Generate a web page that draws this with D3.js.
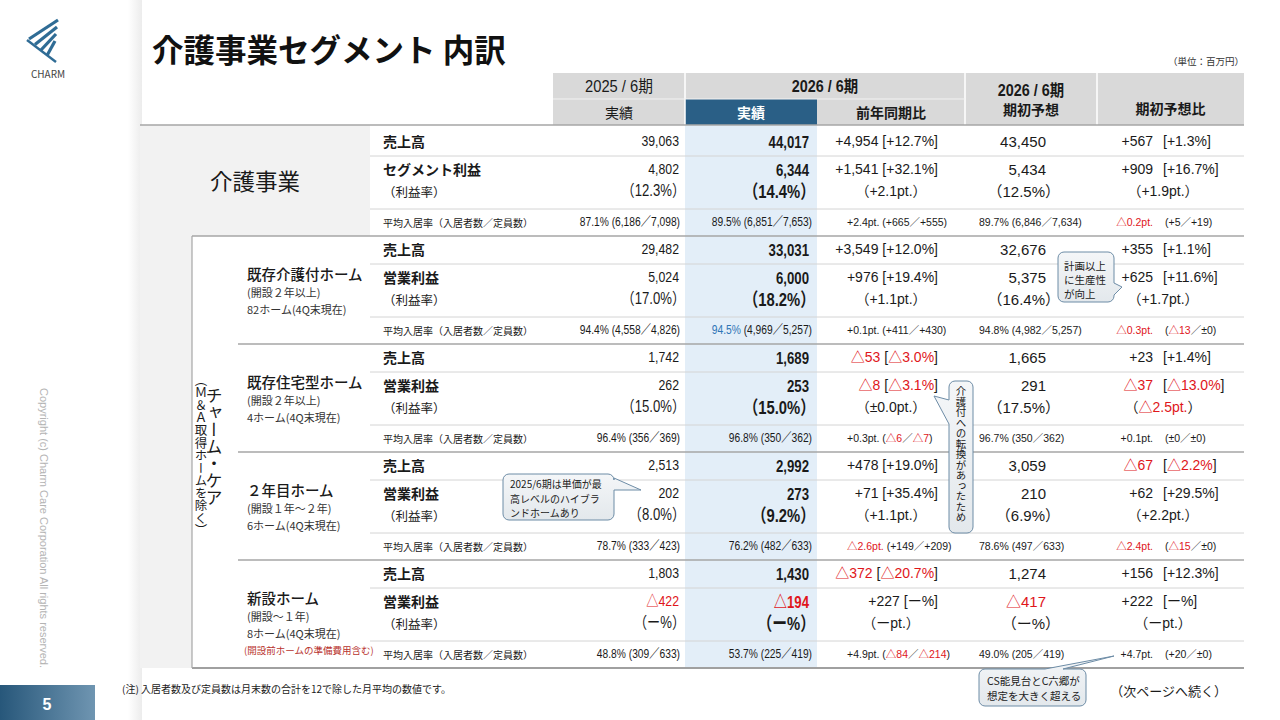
<!DOCTYPE html>
<html lang="ja">
<head>
<meta charset="utf-8">
<script src="https://cdn.jsdelivr.net/npm/d3@7"></script>
<style>
body { margin: 0; background: #fff; }
svg { display: block; }
text { font-family: "Liberation Sans", "Noto Sans CJK JP", sans-serif; white-space: pre; }
.jp { font-family: "Noto Sans CJK JP", sans-serif; }
</style>
</head>
<body>
<svg id="chart" width="1280" height="720"></svg>
<script>
// ---- data (百万円) ----
const segments = ["介護事業", "既存介護付ホーム", "既存住宅型ホーム", "２年目ホーム", "新設ホーム"];
const segmentNotes = [[], ["(開設２年以上)", "82ホーム(4Q末現在)"], ["(開設２年以上)", "4ホーム(4Q末現在)"],
                      ["(開設１年～２年)", "6ホーム(4Q末現在)"], ["(開設～１年)", "8ホーム(4Q末現在)"]];
const headGroup = ["2025 / 6期", "2026 / 6期", "2026 / 6期"];
const headSub = ["実績", "実績", "前年同期比", "期初予想", "期初予想比"];

const sales2025 = [39063, 29482, 1742, 2513, 1803];
const sales2026 = [44017, 33031, 1689, 2992, 1430];
const salesYoY = [4954, 3549, -53, 478, -372];
const salesYoYPct = [12.7, 12.0, -3.0, 19.0, -20.7];
const salesPlan = [43450, 32676, 1665, 3059, 1274];
const salesVsPlan = [567, 355, 23, -67, 156];
const salesVsPlanPct = [1.3, 1.1, 1.4, -2.2, 12.3];

const profit2025 = [4802, 5024, 262, 202, -422];
const profit2026 = [6344, 6000, 253, 273, -194];
const profitYoY = [1541, 976, -8, 71, 227];
const profitYoYPct = [32.1, 19.4, -3.1, 35.4, null];
const profitPlan = [5434, 5375, 291, 210, -417];
const profitVsPlan = [909, 625, -37, 62, 222];
const profitVsPlanPct = [16.7, 11.6, -13.0, 29.5, null];

const margin2025 = [12.3, 17.0, 15.0, 8.0, null];
const margin2026 = [14.4, 18.2, 15.0, 9.2, null];
const marginYoY = [2.1, 1.1, 0.0, 1.1, null];
const marginPlan = [12.5, 16.4, 17.5, 6.9, null];
const marginVsPlan = [1.9, 1.7, -2.5, 2.2, null];

const occ2025 = [87.1, 94.4, 96.4, 78.7, 48.8];
const residents2025 = [6186, 4558, 356, 333, 309];
const capacity2025 = [7098, 4826, 369, 423, 633];
const occ2026 = [89.5, 94.5, 96.8, 76.2, 53.7];
const residents2026 = [6851, 4969, 350, 482, 225];
const capacity2026 = [7653, 5257, 362, 633, 419];
const occ2026Blue = [false, true, false, false, false];
const occYoY = [2.4, 0.1, 0.3, -2.6, 4.9];
const residentsYoY = [665, 411, -6, 149, -84];
const capacityYoY = [555, 430, -7, 209, -214];
const occPlan = [89.7, 94.8, 96.7, 78.6, 49.0];
const residentsPlan = [6846, 4982, 350, 497, 205];
const capacityPlan = [7634, 5257, 362, 633, 419];
const occVsPlan = [-0.2, -0.3, 0.1, -2.4, 4.7];
const residentsVsPlan = [5, -13, 0, -15, 20];
const capacityVsPlan = [19, 0, 0, 0, 0];

const calloutTexts = [["計画以上", "に生産性", "が向上"], ["介護付への転換があったため"],
                      ["2025/6期は単価が最", "高レベルのハイブラ", "ンドホームあり"], ["CS能見台とC六郷が", "想定を大きく超える"]];

// ---- helpers ----
const RED = "#e0161b", INK = "#1a1a1a", BLUE = "#2a5f86";
const NARROW = 0.82;   // Arial Narrow look
const comma = d3.format(",");
const plain = v => v < 0 ? "△" + comma(-v) : comma(v);
function signed(v, dec) {
  if (v == null) return "ー";
  const s = dec != null ? Math.abs(v).toFixed(dec) : comma(Math.abs(v));
  return v > 0 ? "+" + s : v < 0 ? "△" + s : "±" + s;
}
const pctCell = v => v == null ? "ー%" : signed(v, 1) + "%";
const ptCell = v => v == null ? "ーpt." : signed(v, 1) + "pt.";
const mCell = v => "（" + (v == null ? "ー" : v.toFixed(1)) + "%）";

const svg = d3.select("#chart");

function put(g, x, yy, str, o = {}) {
  const t = g.append("text")
    .attr("text-anchor", o.anchor || "start").attr("dominant-baseline", "central")
    .attr("font-size", o.size || 14).attr("font-weight", o.weight || (o.bold ? "bold" : null))
    .attr("class", o.cls || null).attr("fill", o.fill || INK);
  if (o.sx) t.attr("transform", `translate(${x},${yy}) scale(${o.sx},1)`).attr("x", 0).attr("y", 0);
  else t.attr("x", x).attr("y", yy);
  let rest = str;
  if (o.blue) {
    const m = rest.match(/^[0-9.]+%/);
    t.append("tspan").attr("fill", "#2e75b6").text(m[0]);
    rest = rest.slice(m[0].length);
  }
  const re = /△[0-9.,]+(?:pt\.|%)?/g;
  let last = 0, m;
  while ((m = re.exec(rest))) {
    if (m.index > last) t.append("tspan").text(rest.slice(last, m.index));
    t.append("tspan").attr("fill", RED).text(m[0]);
    last = re.lastIndex;
  }
  if (last < rest.length) t.append("tspan").text(rest.slice(last));
  return t;
}

// ---- scales ----
const colKeys = ["prev", "cur", "yoy", "plan", "vsPlan"];
const colEdge = d3.scaleOrdinal().domain([...colKeys, "end"]).range([553, 685, 817, 965, 1097, 1244]);
const y = d3.scaleLinear().domain([0, segments.length]).range([128, 668]);
const off = { sales: 13, line1: 28, profit: 41, margin: 63, line2: 81, occ: 94 };

// ---- background ----
const defs = svg.append("defs");
const pg = defs.append("linearGradient").attr("id", "pgnum");
pg.append("stop").attr("offset", 0).attr("stop-color", "#27577a");
pg.append("stop").attr("offset", 1).attr("stop-color", "#6f95b1");
const sh = defs.append("linearGradient").attr("id", "shade");
sh.append("stop").attr("offset", 0).attr("stop-color", "#fff");
sh.append("stop").attr("offset", 1).attr("stop-color", "#ececec");
const cg = defs.append("linearGradient").attr("id", "bub").attr("x2", 0).attr("y2", 1);
cg.append("stop").attr("offset", 0).attr("stop-color", "#f4f6f8");
cg.append("stop").attr("offset", 1).attr("stop-color", "#e3e8ec");

svg.append("rect").attr("x", 128).attr("y", 0).attr("width", 14).attr("height", 720).attr("fill", "url(#shade)");
svg.append("rect").attr("x", 142).attr("y", 0).attr("width", 1138).attr("height", 720).attr("fill", "#fff");

// grey label areas
svg.append("rect").attr("x", 140).attr("y", 125).attr("width", 230).attr("height", y(1) - 125).attr("fill", "#f2f2f2");
svg.append("rect").attr("x", 140).attr("y", y(1)).attr("width", 52).attr("height", y(5) - y(1)).attr("fill", "#f2f2f2");
// highlighted column
svg.append("rect").attr("x", colEdge("cur")).attr("y", 125).attr("width", colEdge("yoy") - colEdge("cur"))
  .attr("height", y(5) - 125).attr("fill", "#e3eef8");

// header
const hd = svg.append("g");
hd.append("rect").attr("x", colEdge("prev")).attr("y", 73).attr("width", colEdge("end") - colEdge("prev")).attr("height", 52).attr("fill", "#d9d9d9");
hd.append("rect").attr("x", colEdge("cur")).attr("y", 99).attr("width", colEdge("yoy") - colEdge("cur")).attr("height", 26).attr("fill", BLUE);
["cur", "plan", "vsPlan"].forEach(k => hd.append("line").attr("x1", colEdge(k)).attr("x2", colEdge(k))
  .attr("y1", 73).attr("y2", 125).attr("stroke", "#fff").attr("stroke-width", 1.5));
hd.append("line").attr("x1", colEdge("prev")).attr("x2", colEdge("plan")).attr("y1", 99).attr("y2", 99).attr("stroke", "#f2f2f2").attr("stroke-width", 1);
const mid = (a, b) => (colEdge(a) + colEdge(b)) / 2;
put(hd, mid("prev", "cur"), 86, headGroup[0], { anchor: "middle", sx: 0.92, size: 16 });
put(hd, mid("cur", "plan"), 86, headGroup[1], { anchor: "middle", sx: 0.9, size: 16, bold: true });
put(hd, mid("plan", "vsPlan"), 90, headGroup[2], { anchor: "middle", sx: 0.9, size: 16, bold: true });
put(hd, mid("prev", "cur"), 112, headSub[0], { anchor: "middle", cls: "jp", size: 14 });
put(hd, mid("cur", "yoy"), 112, headSub[1], { anchor: "middle", cls: "jp", size: 14, bold: true, fill: "#fff" });
put(hd, mid("yoy", "plan"), 112, headSub[2], { anchor: "middle", cls: "jp", size: 14, bold: true });
put(hd, mid("plan", "vsPlan"), 109, headSub[3], { anchor: "middle", cls: "jp", size: 14, bold: true });
put(hd, mid("vsPlan", "end"), 108, headSub[4], { anchor: "middle", cls: "jp", size: 14, bold: true });

// ---- grid lines ----
const grid = svg.append("g");
grid.append("line").attr("x1", 140).attr("x2", colEdge("end")).attr("y1", 125).attr("y2", 125).attr("stroke", "#a6a6a6").attr("stroke-width", 1.5);
segments.forEach((s, i) => {
  const t = y(i);
  [off.line1, off.line2].forEach(d => grid.append("line").attr("x1", 370).attr("x2", colEdge("end"))
    .attr("y1", t + d).attr("y2", t + d).attr("stroke", "#d4d4d4").attr("stroke-width", 1));
  if (i > 0) grid.append("line").attr("x1", i === 1 ? 192 : 238).attr("x2", colEdge("end"))
    .attr("y1", t).attr("y2", t).attr("stroke", "#a6a6a6").attr("stroke-width", 1.3);
});
grid.append("line").attr("x1", 192).attr("x2", colEdge("end")).attr("y1", y(5)).attr("y2", y(5)).attr("stroke", "#a0a0a0").attr("stroke-width", 2);
grid.append("line").attr("x1", 192).attr("x2", 192).attr("y1", y(1)).attr("y2", y(5)).attr("stroke", "#a6a6a6").attr("stroke-width", 1.2);
grid.append("rect").attr("x", 193).attr("y", y(1) + 1).attr("width", 45).attr("height", y(5) - y(1) - 2).attr("fill", "#fff");

// ---- rows ----
segments.forEach((name, i) => {
  const t = y(i);
  const g = svg.append("g");
  if (i === 0) {
    put(g, 210, t + 52, name, { cls: "jp", size: 22.5 });
  } else {
    put(g, 247, t + 37, name, { cls: "jp", size: 14.5, weight: 500 });
    segmentNotes[i].forEach((n, k) => put(g, 247, t + 56 + k * 16.5, n, { cls: "jp", size: 11, fill: "#333" }));
    if (i === 4) put(g, 244, t + 90, "(開設前ホームの準備費用含む)", { cls: "jp", size: 9.5, fill: "#b8332e" });
  }
  put(g, 383, t + off.sales, "売上高", { cls: "jp", size: 14, bold: true });
  put(g, 383, t + off.profit, i === 0 ? "セグメント利益" : "営業利益", { cls: "jp", size: 14, bold: true });
  put(g, 383, t + off.margin, "（利益率）", { cls: "jp", size: 12.5 });
  put(g, 383, t + off.occ, "平均入居率（入居者数／定員数）", { cls: "jp", size: 10 });

  // sales
  put(g, 679, t + off.sales, plain(sales2025[i]), { anchor: "end", sx: NARROW, size: 15 });
  put(g, 809, t + off.sales, plain(sales2026[i]), { anchor: "end", sx: 0.8, size: 16.5, bold: true });
  put(g, 938, t + off.sales, `${signed(salesYoY[i])} [${pctCell(salesYoYPct[i])}]`, { anchor: "end", size: 14 });
  put(g, 1046, t + off.sales, plain(salesPlan[i]), { anchor: "end", size: 15 });
  put(g, 1153, t + off.sales, signed(salesVsPlan[i]), { anchor: "end", size: 14 });
  put(g, 1163, t + off.sales, `[${pctCell(salesVsPlanPct[i])}]`, { size: 14 });

  // profit
  put(g, 679, t + off.profit, plain(profit2025[i]), { anchor: "end", sx: NARROW, size: 15 });
  put(g, 809, t + off.profit, plain(profit2026[i]), { anchor: "end", sx: 0.8, size: 16.5, bold: true });
  put(g, 938, t + off.profit, `${signed(profitYoY[i])} [${pctCell(profitYoYPct[i])}]`, { anchor: "end", size: 14 });
  put(g, 1046, t + off.profit, plain(profitPlan[i]), { anchor: "end", size: 15 });
  put(g, 1153, t + off.profit, signed(profitVsPlan[i]), { anchor: "end", size: 14 });
  put(g, 1163, t + off.profit, `[${pctCell(profitVsPlanPct[i])}]`, { size: 14 });

  // margin
  put(g, 685, t + off.margin, mCell(margin2025[i]), { anchor: "end", sx: NARROW, size: 16 });
  put(g, 815, t + off.margin, mCell(margin2026[i]), { anchor: "end", sx: 0.8, size: 18.5, bold: true });
  put(g, 891, t + off.margin, `（${ptCell(marginYoY[i])}）`, { anchor: "middle", size: 14 });
  put(g, 1060, t + off.margin, mCell(marginPlan[i]), { anchor: "end", size: 15 });
  put(g, 1163, t + off.margin, `（${ptCell(marginVsPlan[i])}）`, { anchor: "middle", size: 14 });

  // occupancy
  put(g, 680, t + off.occ, `${occ2025[i].toFixed(1)}% (${comma(residents2025[i])}／${comma(capacity2025[i])})`, { anchor: "end", sx: NARROW, size: 12.5 });
  put(g, 812, t + off.occ, `${occ2026[i].toFixed(1)}% (${comma(residents2026[i])}／${comma(capacity2026[i])})`, { anchor: "end", sx: NARROW, size: 12.5, blue: occ2026Blue[i] });
  put(g, 847, t + off.occ, `${signed(occYoY[i], 1)}pt. (${signed(residentsYoY[i])}／${signed(capacityYoY[i])})`, { size: 10.5 });
  put(g, 979, t + off.occ, `${occPlan[i].toFixed(1)}% (${comma(residentsPlan[i])}／${comma(capacityPlan[i])})`, { size: 10.5 });
  put(g, 1153, t + off.occ, `${signed(occVsPlan[i], 1)}pt.`, { anchor: "end", size: 10.5 });
  put(g, 1165, t + off.occ, `(${signed(residentsVsPlan[i])}／${signed(capacityVsPlan[i])})`, { size: 10.5 });
});

// vertical group label
svg.append("text").attr("x", 214).attr("y", 387).attr("class", "jp").attr("font-size", 17).attr("fill", INK)
  .style("writing-mode", "vertical-rl").text("チャーム・ケア");
svg.append("text").attr("x", 201).attr("y", 374).attr("class", "jp").attr("font-size", 12.5).attr("fill", INK)
  .style("writing-mode", "vertical-rl").text("（Ｍ＆Ａ取得ホームを除く）");

// ---- callouts ----
function bubblePath(b, side, a1, a2, tip) {
  const { x, y: yy, w, h } = b, r = 6, p = d3.path();
  p.moveTo(x + r, yy);
  if (side === "top") { p.lineTo(a1, yy); p.lineTo(tip[0], tip[1]); p.lineTo(a2, yy); }
  p.lineTo(x + w - r, yy); p.arcTo(x + w, yy, x + w, yy + r, r);
  if (side === "right") { p.lineTo(x + w, a1); p.lineTo(tip[0], tip[1]); p.lineTo(x + w, a2); }
  p.lineTo(x + w, yy + h - r); p.arcTo(x + w, yy + h, x + w - r, yy + h, r);
  p.lineTo(x + r, yy + h); p.arcTo(x, yy + h, x, yy + h - r, r);
  if (side === "left") { p.lineTo(x, a2); p.lineTo(tip[0], tip[1]); p.lineTo(x, a1); }
  p.lineTo(x, yy + r); p.arcTo(x, yy, x + r, yy, r);
  p.closePath();
  return p.toString();
}
const bubbles = [
  { box: { x: 1058, y: 252, w: 56, h: 50 }, side: "right", a1: 283, a2: 295, tip: [1122, 287], tx: 1064, ty: 265, dy: 14, size: 10.5 },
  { box: { x: 949, y: 381, w: 24, h: 152 }, side: "left", a1: 400, a2: 424, tip: [934, 396], vertical: true, tx: 961, ty: 386, size: 10.5 },
  { box: { x: 503, y: 474, w: 111, h: 46 }, side: "right", a1: 478, a2: 490, tip: [641, 490], tx: 510, ty: 483, dy: 14.5, size: 10 },
  { box: { x: 979, y: 669, w: 107, h: 37 }, side: "top", a1: 1045, a2: 1063, tip: [1114, 656], tx: 987, ty: 680, dy: 15, size: 10.5 }
];
bubbles.forEach((b, i) => {
  const g = svg.append("g");
  g.append("path").attr("d", bubblePath(b.box, b.side, b.a1, b.a2, b.tip))
    .attr("fill", "url(#bub)").attr("stroke", "#6d8ca6").attr("stroke-width", 1);
  if (b.vertical) {
    g.append("text").attr("x", b.tx).attr("y", b.ty).attr("class", "jp").attr("font-size", b.size).attr("fill", INK)
      .style("writing-mode", "vertical-rl").text(calloutTexts[i][0]);
  } else {
    calloutTexts[i].forEach((s, k) => put(g, b.tx, b.ty + k * b.dy, s, { cls: "jp", size: b.size, fill: "#222" }));
  }
});

// ---- page furniture ----
put(svg, 152, 48, "介護事業セグメント 内訳", { cls: "jp", size: 31.5, bold: true, fill: "#111" });
put(svg, 1244, 61, "（単位：百万円）", { anchor: "end", cls: "jp", size: 9.5, fill: "#333" });
put(svg, 122, 688, "(注) 入居者数及び定員数は月末数の合計を12で除した月平均の数値です。", { cls: "jp", size: 10 });
put(svg, 1227, 690, "（次ページへ続く）", { anchor: "end", cls: "jp", size: 13 });

svg.append("text").attr("transform", "translate(44,388) rotate(90)").attr("font-size", 11)
  .attr("fill", "#b4b4b4").attr("dominant-baseline", "central").text("Copyright (c) Charm Care Corporation All rights reserved.");

svg.append("rect").attr("x", 0).attr("y", 685).attr("width", 95).attr("height", 35).attr("fill", "url(#pgnum)");
put(svg, 47, 704, "5", { anchor: "middle", size: 16, bold: true, fill: "#fff" });

// logo
const logo = svg.append("g").attr("stroke", "#2f6c95").attr("stroke-width", 3.2).attr("fill", "none");
[0, 1, 2, 3].forEach(k => logo.append("polyline")
  .attr("points", [[58 - k * 1, 20 + k * 7], [29 + k * 6, 39 + k * 5.5]].map(p => p.join(",")).join(" ")));
logo.append("polyline").attr("points", "27,40 56,62").attr("stroke-width", 2.4);
put(svg, 48, 73, "CHARM", { anchor: "middle", size: 10, fill: "#444", cls: "jp" });
</script>
</body>
</html>
